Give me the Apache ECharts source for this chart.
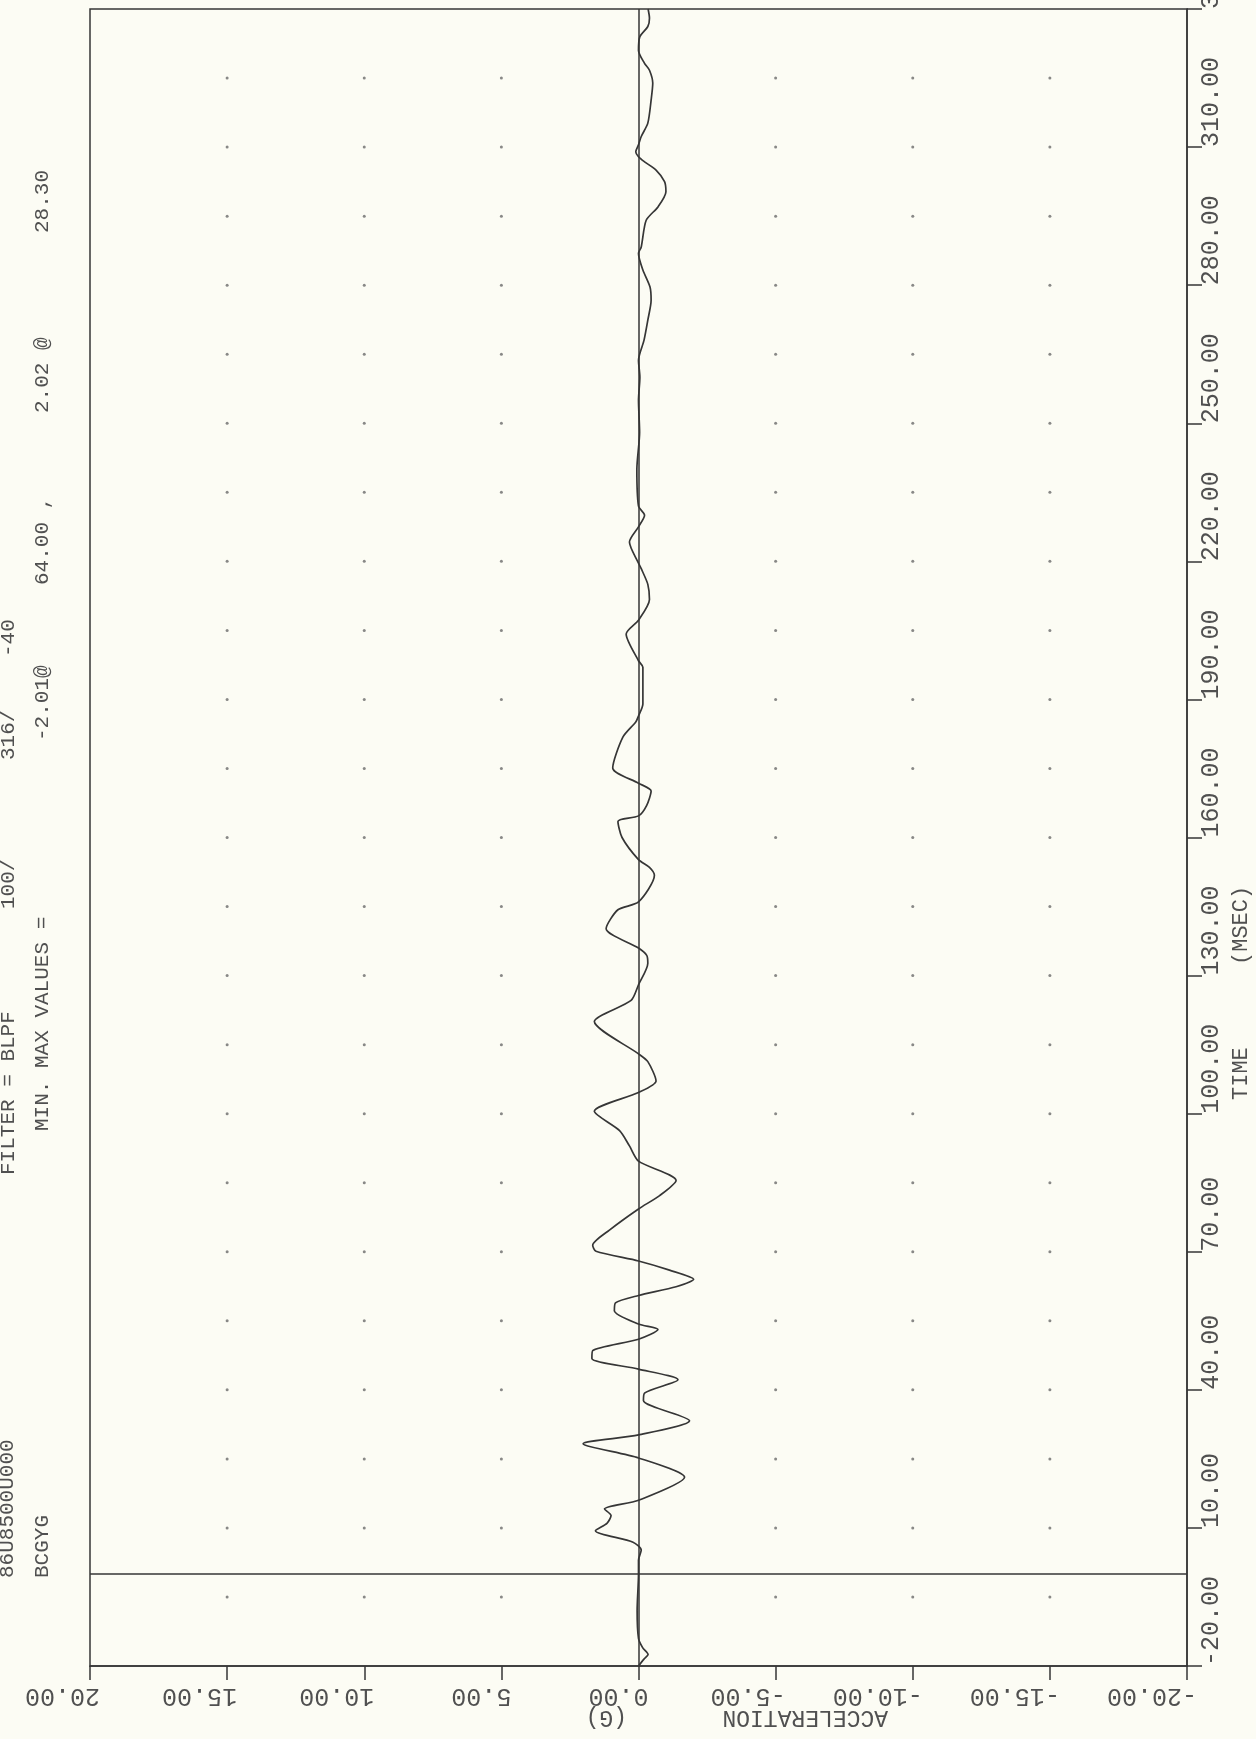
<!DOCTYPE html>
<html>
<head>
<meta charset="utf-8">
<title>BCGYG acceleration</title>
<script src="https://cdn.jsdelivr.net/npm/echarts@6/dist/echarts.min.js"></script>
<style>
html, body { margin: 0; padding: 0; background: #fcfcf4; }
#chart { width: 1256px; height: 1739px; }
</style>
</head>
<body>
<div id="chart"></div>
<script>
// trace: time (ms) and acceleration (G)
const timeMs = [-20, -18.5, -17.5, -16, -14, -8, 0, 3, 5.2, 6.9,
  9.4, 11, 12.7, 14.1, 16, 21, 25.2, 28.3, 30.2, 33.3,
  37.7, 39.3, 42.2, 44.5, 46.8, 48.5, 51, 53.1, 54.3, 57.2,
  58.9, 60.5, 62.4, 64, 66, 68, 70.1, 71.4, 74.7, 79.3,
  82.2, 85.5, 89.7, 93, 96.3, 100.5, 104.6, 107.1, 111.3, 113,
  120, 124.6, 128, 132.7, 134.4, 136, 140.2, 144.3, 146, 151.8,
  153.5, 155.2, 160, 163.5, 164.7, 167, 170.1, 171.8, 175.1, 181.8,
  185.1, 186.4, 189, 197, 198.4, 204.2, 207.2, 211.7, 215, 218.4,
  219.6, 224.2, 227.5, 230, 232, 240, 248, 255, 260, 263.7,
  268, 272.4, 276.7, 279.6, 283.3, 286.9, 288.3, 294.1, 297, 300.3,
  302.5, 305, 306.8, 307.9, 309, 310.5, 312.3, 315.2, 320.2, 323.9,
  326.7, 328.2, 331, 334, 336.2, 338, 340];
const accelG = [0, -0.2, -0.35, -0.15, 0, 0.05, 0, 0, -0.1, 0.2,
  1.57, 1.15, 1.0, 1.24, 0, -1.68, 0, 2.02, 0, -1.86,
  -0.18, -0.22, -1.44, 0, 1.7, 1.67, 0, -0.71, 0, 0.88,
  0.84, 0, -1.37, -2.01, -1.13, 0, 1.55, 1.67, 1.06, 0,
  -0.77, -1.37, 0, 0.33, 0.69, 1.61, 0, -0.64, -0.34, 0,
  1.61, 0.27, 0, -0.34, -0.3, 0, 1.18, 0.75, 0, -0.58,
  -0.4, 0, 0.6, 0.75, 0, -0.3, -0.46, 0, 0.94, 0.57,
  0.1, 0, -0.16, -0.16, 0, 0.45, 0, -0.4, -0.34, -0.1,
  0, 0.33, 0, -0.22, 0, 0.06, -0.04, 0, -0.05, 0,
  -0.2, -0.34, -0.46, -0.42, -0.16, 0, -0.1, -0.28, -0.71, -1.0,
  -0.95, -0.64, -0.22, 0, 0.1, 0, -0.1, -0.34, -0.46, -0.52,
  -0.4, -0.22, 0, -0.05, -0.34, -0.4, -0.35];

// dotted grid
const dotAccel = [15, 10, 5, -5, -10, -15];
const dotTime = [-5, 10, 25, 40, 55, 70, 85, 100, 115, 130, 145, 160, 175, 190,
  205, 220, 235, 250, 265, 280, 295, 310, 325];

const ink = '#363636';
const txt = '#505050';
const mono = '"Liberation Mono", "DejaVu Sans Mono", monospace';

const chart = echarts.init(document.getElementById('chart'));

const trace = timeMs.map((t, i) => [accelG[i], t]);
const dots = [];
dotTime.forEach(t => dotAccel.forEach(a => dots.push([a, t])));

// text reading bottom-to-top
function upText(str, x, y, size) {
  return {
    type: 'text', x: x, y: y, rotation: Math.PI / 2, silent: true,
    style: { text: str, font: size + 'px ' + mono, fill: txt,
      align: 'left', verticalAlign: 'middle', textAlign: 'left', textVerticalAlign: 'middle' }
  };
}
// upside-down text
function flipText(str, x, y, size) {
  return {
    type: 'text', x: x, y: y, rotation: Math.PI, silent: true,
    style: { text: str, font: size + 'px ' + mono, fill: txt,
      align: 'left', verticalAlign: 'bottom', textAlign: 'left', textVerticalAlign: 'bottom' }
  };
}

chart.setOption({
  backgroundColor: '#fcfcf4',
  animation: false,
  grid: { left: 90, right: 69, top: 9, bottom: 73, show: true,
    outerBoundsMode: 'none', containLabel: false,
    borderColor: ink, borderWidth: 1.5, backgroundColor: 'transparent' },
  xAxis: {
    type: 'value', min: -20, max: 20, interval: 5, inverse: true,
    axisLine: { show: true, onZero: false, lineStyle: { color: ink, width: 1.5 } },
    axisTick: { show: true, inside: false, length: 14, lineStyle: { color: ink, width: 1.5 } },
    splitLine: { show: false },
    axisLabel: {
      rotate: 180, align: 'left', verticalAlign: 'bottom', margin: 17,
      padding: [0, 0, 0, -10],
      color: txt, fontFamily: mono, fontSize: 25,
      formatter: v => v.toFixed(2)
    }
  },
  yAxis: {
    type: 'value', min: -20, max: 340, interval: 30, position: 'right',
    axisLine: { show: true, onZero: false, lineStyle: { color: ink, width: 1.5 } },
    axisTick: { show: true, inside: false, length: 15, lineStyle: { color: ink, width: 1.5 } },
    splitLine: { show: false },
    axisLabel: {
      rotate: 90, align: 'left', verticalAlign: 'top', margin: 12,
      color: txt, fontFamily: mono, fontSize: 25,
      formatter: v => v.toFixed(2)
    }
  },
  series: [
    {
      type: 'scatter', data: dots, symbolSize: 3, silent: true, z: 1,
      itemStyle: { color: '#6a6a6a' }
    },
    {
      type: 'line', data: trace, showSymbol: false, smooth: 0.25, z: 3,
      lineStyle: { color: ink, width: 1.7 },
      markLine: {
        silent: true, symbol: 'none', label: { show: false },
        lineStyle: { color: ink, width: 1.5, type: 'solid' },
        data: [{ xAxis: 0 }, { yAxis: 0 }]
      }
    }
  ],
  graphic: [
    upText('FILTER = BLPF', 8, 1175, 21),
    upText('100/', 8, 909, 21),
    upText('316/', 8, 760, 21),
    upText('-40', 8, 657, 21),
    upText('MIN. MAX VALUES =', 42, 1131, 21),
    upText('-2.01@', 42, 741, 21),
    upText('64.00 ,', 42, 585, 21),
    upText('2.02 @', 42, 413, 21),
    upText('28.30', 42, 233, 21),
    upText('86U8500U000', 7, 1578, 21),
    upText('BCGYG', 42, 1578, 21),
    upText('TIME', 1241, 1100, 22),
    upText('(MSEC)', 1241, 965, 22),
    flipText('ACCELERATION', 888, 1706, 23),
    flipText('(G)', 627, 1706, 23)
  ]
});
</script>
</body>
</html>
